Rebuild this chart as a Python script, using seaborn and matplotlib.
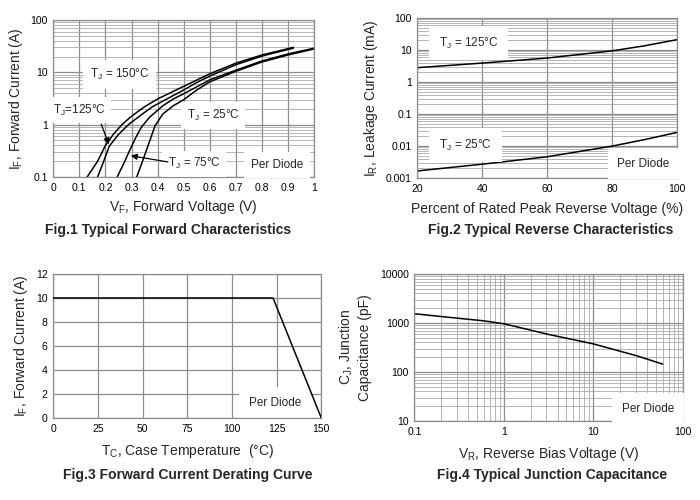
import numpy as np
import pandas as pd
import seaborn as sns
import matplotlib
matplotlib.use("Agg")
import matplotlib.pyplot as plt
from matplotlib.ticker import LogLocator, NullFormatter

# Fig.1 forward characteristics (V, A)
vf_150 = [0.13, 0.17, 0.20, 0.23, 0.263, 0.30, 0.35, 0.40, 0.45, 0.50, 0.60, 0.70, 0.80, 0.92]
if_150 = [0.1, 0.2, 0.4, 0.65, 1.0, 1.45, 2.2, 3.1, 4.1, 5.4, 9.4, 15, 21.5, 30]
vf_125 = [0.17, 0.19, 0.215, 0.25, 0.288, 0.33, 0.38, 0.43, 0.50, 0.55, 0.60, 0.70, 0.80, 0.92]
if_125 = [0.1, 0.18, 0.39, 0.65, 1.0, 1.45, 2.2, 3.0, 4.6, 6.4, 8.5, 14, 20.5, 29]
vf_75 = [0.245, 0.27, 0.29, 0.315, 0.338, 0.37, 0.42, 0.46, 0.50, 0.55, 0.60, 0.70, 0.80, 0.90, 1.0]
if_75 = [0.1, 0.18, 0.3, 0.55, 0.9, 1.4, 2.3, 3.1, 3.9, 5.3, 7.2, 11, 16.5, 22.5, 29]
vf_25 = [0.32, 0.345, 0.365, 0.39, 0.42, 0.46, 0.50, 0.55, 0.60, 0.70, 0.80, 0.90, 1.0]
if_25 = [0.1, 0.22, 0.42, 0.95, 1.6, 2.3, 3.0, 4.6, 6.6, 10.5, 15.8, 21.5, 28]

# Fig.2 reverse characteristics (% of VRRM, mA)
pct = [20, 40, 60, 80, 90, 100]
ir_125 = [2.8, 3.9, 5.6, 9.4, 13.5, 21]
ir_25 = [0.00166, 0.0027, 0.0046, 0.0099, 0.0158, 0.0265]

# Fig.3 derating (degC, A)
tc = [0, 123, 150]
if_derate = [10, 10, 0]

# Fig.4 junction capacitance (V, pF)
vr = [0.1, 0.25, 0.59, 1.0, 3.3, 10, 30.8, 60]
cj = [1545, 1300, 1110, 965, 575, 376, 214, 145]

sns.set_theme(style="white")
plt.rcParams['font.family'] = ['Liberation Sans', 'DejaVu Sans']
plt.rcParams['mathtext.fontset'] = 'custom'
plt.rcParams['mathtext.rm'] = 'Liberation Sans'
plt.rcParams['mathtext.it'] = 'Liberation Sans'

fig = plt.figure(figsize=(7, 5), dpi=100)
ax1 = fig.add_axes([0.076, 0.646, 0.373, 0.314])
ax2 = fig.add_axes([0.596, 0.644, 0.371, 0.320])
ax3 = fig.add_axes([0.076, 0.164, 0.383, 0.288])
ax4 = fig.add_axes([0.592, 0.158, 0.383, 0.294])

gc = '#8c8c8c'
tfs = 7.5
lfs = 10
afs = 8.5


def box(p=4):
    return dict(facecolor='white', edgecolor='none', pad=p)


def style(ax):
    for s in ax.spines.values():
        s.set_color(gc)
        s.set_linewidth(0.9)
    ax.tick_params(length=0, labelsize=tfs, pad=4, colors='black')
    ax.set_axisbelow(True)


def curve(ax, x, y):
    d = pd.DataFrame({'x': x, 'y': y})
    sns.lineplot(data=d, x='x', y='y', ax=ax, color='black', lw=1.1,
                 sort=False, estimator=None)


# ---- Fig.1
for x, y in [(vf_150, if_150), (vf_125, if_125), (vf_75, if_75), (vf_25, if_25)]:
    curve(ax1, x, y)
ax1.set_yscale('log')
ax1.set_xlim(0, 1)
ax1.set_ylim(0.1, 100)
ax1.set_xticks(np.arange(0, 1.01, 0.1))
ax1.set_xticklabels(['0', '0.1', '0.2', '0.3', '0.4', '0.5', '0.6', '0.7', '0.8', '0.9', '1'])
ax1.set_yticks([0.1, 1, 10, 100])
ax1.set_yticklabels(['0.1', '1', '10', '100'])
ax1.yaxis.set_minor_locator(LogLocator(base=10, subs=np.arange(2, 10)))
ax1.yaxis.set_minor_formatter(NullFormatter())
ax1.grid(True, which='major', color=gc, lw=0.9)
ax1.grid(True, which='minor', axis='y', color='#aaaaaa', lw=0.6)
ax1.set_xlabel('V$_F$, Forward Voltage (V)', fontsize=lfs, labelpad=4)
ax1.set_ylabel('I$_F$, Forward Current (A)', fontsize=lfs, labelpad=4)
ax1.text(0.255, 9.2, 'T$_J$ = 150°C', fontsize=afs, ha='center', va='center', bbox=box(5))
ax1.text(0.10, 1.9, 'T$_J$=125°C', fontsize=afs, ha='center', va='center', bbox=box(4))
ax1.text(0.613, 1.5, 'T$_J$ = 25°C', fontsize=afs, ha='center', va='center', bbox=box(4))
ax1.text(0.54, 0.18, 'T$_J$ = 75°C', fontsize=afs, ha='center', va='center', bbox=box(4))
ax1.text(0.856, 0.167, 'Per Diode', fontsize=afs, ha='center', va='center', bbox=box(5))
ax1.annotate('', xy=(0.217, 0.375), xytext=(0.18, 1.15),
             arrowprops=dict(arrowstyle='-|>', color='black', lw=0.9, mutation_scale=9))
ax1.annotate('', xy=(0.287, 0.26), xytext=(0.45, 0.19),
             arrowprops=dict(arrowstyle='-|>', color='black', lw=0.9, mutation_scale=9))
style(ax1)

# ---- Fig.2
curve(ax2, pct, ir_125)
curve(ax2, pct, ir_25)
ax2.set_yscale('log')
ax2.set_xlim(20, 100)
ax2.set_ylim(0.001, 100)
ax2.set_xticks([20, 40, 60, 80, 100])
ax2.set_yticks([0.001, 0.01, 0.1, 1, 10, 100])
ax2.set_yticklabels(['0.001', '0.01', '0.1', '1', '10', '100'])
ax2.yaxis.set_minor_locator(LogLocator(base=10, subs=np.arange(2, 10)))
ax2.yaxis.set_minor_formatter(NullFormatter())
ax2.grid(True, which='major', color=gc, lw=0.9)
ax2.grid(True, which='minor', axis='y', color='#aaaaaa', lw=0.6)
ax2.set_xlabel('Percent of Rated Peak Reverse Voltage (%)', fontsize=lfs, labelpad=6)
ax2.set_ylabel('I$_R$, Leakage Current (mA)', fontsize=lfs, labelpad=4)
ax2.text(35.9, 16.4, 'T$_J$ = 125°C', fontsize=afs, ha='center', va='center', bbox=box(7))
ax2.text(34.9, 0.0106, 'T$_J$ = 25°C', fontsize=afs, ha='center', va='center', bbox=box(7))
ax2.text(89.7, 0.0028, 'Per Diode', fontsize=afs, ha='center', va='center', bbox=box(7))
style(ax2)

# ---- Fig.3
curve(ax3, tc, if_derate)
ax3.set_xlim(0, 150)
ax3.set_ylim(0, 12)
ax3.set_xticks([0, 25, 50, 75, 100, 125, 150])
ax3.set_yticks([0, 2, 4, 6, 8, 10, 12])
ax3.grid(True, color=gc, lw=0.9)
ax3.set_xlabel('T$_C$, Case Temperature  (°C)', fontsize=lfs, labelpad=6)
ax3.set_ylabel('I$_F$, Forward Current (A)', fontsize=lfs, labelpad=4)
ax3.text(124.2, 1.25, 'Per Diode', fontsize=afs, ha='center', va='center',
         bbox=box(7), zorder=1)
ax3.lines[0].set_zorder(3)
style(ax3)

# ---- Fig.4
curve(ax4, vr, cj)
ax4.set_xscale('log')
ax4.set_yscale('log')
ax4.set_xlim(0.1, 100)
ax4.set_ylim(10, 10000)
ax4.set_xticks([0.1, 1, 10, 100])
ax4.set_xticklabels(['0.1', '1', '10', '100'])
ax4.set_yticks([10, 100, 1000, 10000])
ax4.set_yticklabels(['10', '100', '1000', '10000'])
for a in (ax4.xaxis, ax4.yaxis):
    a.set_minor_locator(LogLocator(base=10, subs=np.arange(2, 10)))
    a.set_minor_formatter(NullFormatter())
ax4.grid(True, which='major', color=gc, lw=0.9)
ax4.grid(True, which='minor', color='#aaaaaa', lw=0.6)
ax4.set_xlabel('V$_R$, Reverse Bias Voltage (V)', fontsize=lfs, labelpad=6)
ax4.set_ylabel('C$_J$, Junction\nCapacitance (pF)', fontsize=lfs, labelpad=6)
ax4.text(41, 17.6, 'Per Diode', fontsize=afs, ha='center', va='center', bbox=box(7))
style(ax4)

fig.text(0.24, 0.54, 'Fig.1 Typical Forward Characteristics', fontsize=10,
         fontweight='bold', ha='center', va='center')
fig.text(0.786, 0.54, 'Fig.2 Typical Reverse Characteristics', fontsize=10,
         fontweight='bold', ha='center', va='center')
fig.text(0.268, 0.05, 'Fig.3 Forward Current Derating Curve', fontsize=10,
         fontweight='bold', ha='center', va='center')
fig.text(0.788, 0.05, 'Fig.4 Typical Junction Capacitance', fontsize=10,
         fontweight='bold', ha='center', va='center')

fig.savefig('out.png', dpi=100)
